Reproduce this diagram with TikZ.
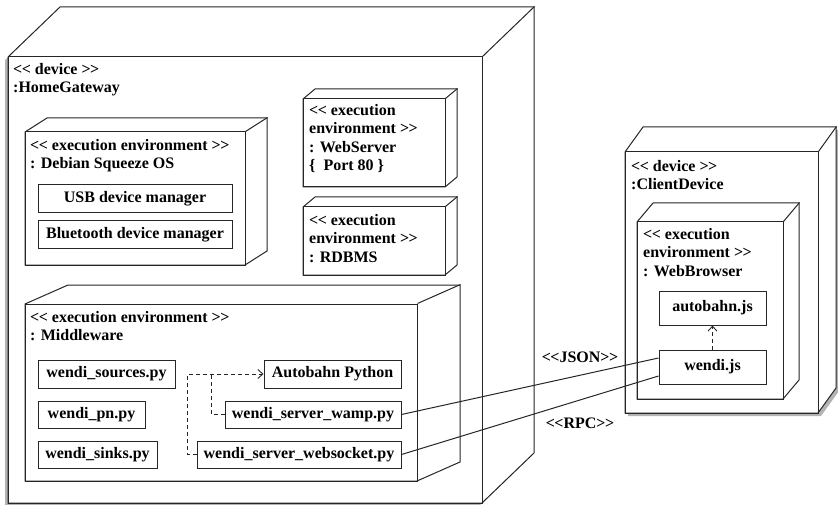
\documentclass[tikz,border=0pt]{standalone}
\usepackage{fontspec}
\setmainfont{Liberation Serif}
\usetikzlibrary{fit,shadows,arrows.meta,calc}
\newcommand\stopen{<\kern-0.5pt<}
\newcommand\stclose{>\kern-0.5pt>}
\tikzset{
 cubeline/.style={draw=black!85, line width=1pt},
 part/.style={draw=black!85, line width=1pt, fill=white, inner sep=0pt, font=\fontsize{16}{18.5}\selectfont\bfseries},
 caption/.style={anchor=north west, inner sep=0pt, align=left, font=\fontsize{16}{18.5}\selectfont\bfseries},
 depline/.style={draw=black!85, line width=0.9pt, dash pattern=on 4pt off 3pt},
 dep/.style={depline, -{Straight Barb[length=5pt,width=9pt]}},
 link/.style={draw=black!85, line width=1pt},
 msg/.style={inner sep=0pt, font=\fontsize{16}{18.5}\selectfont\bfseries},
 shadowleft/.style={drop shadow={shadow xshift=-3pt, shadow yshift=-3pt, opacity=0.6}},
 shadowright/.style={drop shadow={shadow xshift=3pt, shadow yshift=-3pt, opacity=0.6}},
}
% #1 optional style, #2 name, #3 x1, #4 y1, #5 x2, #6 y2, #7 dx, #8 dy
\newcommand\cuboid[8][]{%
 \draw[cubeline, fill=white, #1] (#3,#4) -- (#3+#7,#4-#8) -- (#5+#7,#4-#8) -- (#5+#7,#6-#8) -- (#5,#6) -- (#3,#6) -- cycle;
 \node[cubeline, fit={(#3,#4) (#5,#6)}, inner sep=0pt] (#2) {};
 \draw[cubeline] (#2.north east) -- ++(#7,-#8);
}
\begin{document}
\begin{tikzpicture}[x=1pt,y=-1pt]
\useasboundingbox (0,0) rectangle (838,505);

% HomeGateway device
\cuboid[shadowleft]{hg}{8}{57}{482}{503}{52}{50}
\node[caption] (hgtext) at (13,63) {\stopen{} device \stclose\\:HomeGateway};

% Debian
\cuboid{deb}{25}{132}{245}{265}{22}{14}
\node[caption] (debtext) at (30,139) {\stopen{} execution environment \stclose\\: Debian Squeeze OS};
\node[part, minimum width=194pt, minimum height=28pt] (usb) at (135,199) {USB device manager};
\node[part, minimum width=194pt, minimum height=28pt] (bt) at (135,235) {Bluetooth device manager};

% WebServer
\cuboid{ws}{303}{99}{445}{187}{12}{10}
\node[caption] (wstext) at (309,104) {\stopen{} execution\\environment \stclose\\: WebServer\\\{ \ Port 80 \}};

% RDBMS
\cuboid{db}{303}{207}{445}{275}{12}{10}
\node[caption] (dbtext) at (309,214) {\stopen{} execution\\environment \stclose\\: RDBMS};

% Middleware
\cuboid{mw}{25}{304}{417}{481}{43}{19}
\node[caption] (mwtext) at (30,311) {\stopen{} execution environment \stclose\\: Middleware};
\node[part, minimum width=137pt, minimum height=28pt] (sources) at (106.5,374) {wendi\_sources.py};
\node[part, minimum width=107pt, minimum height=27pt] (pn) at (91.5,414.5) {wendi\_pn.py};
\node[part, minimum width=119pt, minimum height=27pt] (sinks) at (97.5,454.5) {wendi\_sinks.py};
\node[part, minimum width=137pt, minimum height=28pt] (autobahnpy) at (332.5,374) {Autobahn Python};
\node[part, minimum width=176pt, minimum height=27pt] (wamp) at (313,414.5) {wendi\_server\_wamp.py};
\node[part, minimum width=204pt, minimum height=27pt] (websocket) at (299,454.5) {wendi\_server\_websocket.py};

\draw[dep] (websocket.west) -- ++(-9,0) |- (autobahnpy.west);
\draw[depline] (wamp.west) -| ([xshift=-52pt]autobahnpy.west);

% ClientDevice
\cuboid[shadowright]{cd}{625}{152}{818}{413}{18}{25}
\node[caption] (cdtext) at (631,160) {\stopen{} device \stclose\\:ClientDevice};

% WebBrowser
\cuboid{wb}{637}{222}{783}{399}{16}{19}
\node[caption] (wbtext) at (643,228) {\stopen{} execution\\environment \stclose\\: WebBrowser};
\node[part, minimum width=107pt, minimum height=34pt] (autobahnjs) at (712.5,308) {autobahn.js};
\node[part, minimum width=107pt, minimum height=34pt] (wendijs) at (712.5,367) {wendi.js};
\draw[dep] (wendijs.north) -- (autobahnjs.south);

% connectors
\draw[link] (wamp.east) -- ([yshift=9pt]wendijs.west);
\draw[link] (websocket.east) -- ([yshift=-9pt]wendijs.west);
\node[msg] (json) at (580,357) {\stopen JSON\stclose};
\node[msg] (rpc) at (580,423) {\stopen RPC\stclose};
\end{tikzpicture}
\end{document}
